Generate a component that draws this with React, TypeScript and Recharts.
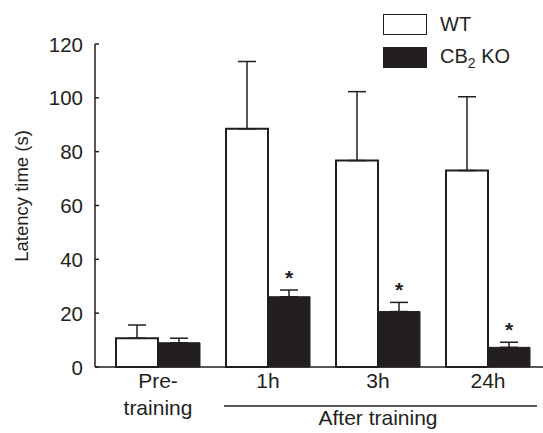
import { BarChart, Bar, XAxis, YAxis, ErrorBar, LabelList, Legend, Label } from "recharts";

const GROUPS = ["Pre-training", "1h", "3h", "24h"];
const SERIES = ["WT", "CB2 KO"];
const WT = [10.7, 88.5, 76.7, 73.0];
const WT_SEM = [4.9, 25.0, 25.6, 27.4];
const KO = [9.0, 26.1, 20.6, 7.3];
const KO_SEM = [1.7, 2.5, 3.4, 1.9];
const SIGNIFICANT = [false, true, true, true];
const Y_TICKS = [0, 20, 40, 60, 80, 100, 120];

const INK = "#231f20";
const FONT = "'Liberation Sans', Arial, sans-serif";

const data = GROUPS.map((g, i) => ({
    group: g,
    wt: WT[i],
    wtErr: [0, WT_SEM[i]],
    ko: KO[i],
    koErr: [0, KO_SEM[i]],
    sig: SIGNIFICANT[i] ? "*" : "",
}));

// y ticks: label to the left, short tick mark pointing into the plot
function YTick(props: any) {
    const { x, y, payload } = props;
    return (
        <g>
            <text x={x} y={y} textAnchor="end" dominantBaseline="central" fontSize={20.5} fill={INK} fontFamily={FONT}>
                {payload.value}
            </text>
            <line x1={x + 12} x2={x + 16} y1={y} y2={y} stroke={INK} strokeWidth={1.5} />
        </g>
    );
}

function XTick(props: any) {
    const { x, y, payload, index } = props;
    const txt = { fontSize: 21, fill: INK, fontFamily: FONT, textAnchor: "middle" as const };
    if (index === 0) {
        return (
            <g>
                <text x={x} y={y + 21} {...txt}>Pre-</text>
                <text x={x} y={y + 48} {...txt}>training</text>
            </g>
        );
    }
    // bracket line under the "after training" groups
    const left = index === 1 ? x - 44 : x - 55;
    const right = index === GROUPS.length - 1 ? x + 49 : x + 55;
    return (
        <g>
            <text x={x} y={y + 21} {...txt}>{payload.value}</text>
            <line x1={left} x2={right} y1={y + 39} y2={y + 39} stroke={INK} strokeWidth={1.5} />
            {index === 2 && <text x={x} y={y + 58} {...txt}>After training</text>}
        </g>
    );
}

function YTitle(props: any) {
    const vb = props.viewBox;
    const x = vb.x - 7;
    const y = vb.y + vb.height / 2 - 9.5;
    return (
        <text x={x} y={y} transform={`rotate(-90, ${x}, ${y})`} textAnchor="middle" fontSize={18.5} fill={INK} fontFamily={FONT}>
            Latency time (s)
        </text>
    );
}

function Star(props: any) {
    const { x, y, width, height, index } = props;
    if (!SIGNIFICANT[index]) return null;
    const top = y - (KO_SEM[index] * height) / KO[index];
    return (
        <text x={x + width / 2} y={top - 5} textAnchor="middle" fontSize={21} fontWeight="bold" fill={INK} fontFamily={FONT}>
            *
        </text>
    );
}

function LegendBox({ payload }: any) {
    const items = [...(payload || [])].sort((a: any, b: any) => SERIES.indexOf(a.value) - SERIES.indexOf(b.value));
    return (
        <div style={{ fontFamily: FONT, fontSize: 20, color: INK }}>
            {items.map((entry: any) => (
                <div key={entry.value} style={{ display: "flex", alignItems: "center", height: 21, marginBottom: 12 }}>
                    <div style={{ width: 44, height: 21, boxSizing: "border-box", background: entry.color, border: `1.5px solid ${INK}` }} />
                    <span style={{ marginLeft: 13 }}>
                        {entry.value === "CB2 KO" ? <>CB<sub style={{ fontSize: 14 }}>2</sub> KO</> : entry.value}
                    </span>
                </div>
            ))}
        </div>
    );
}

export default function App() {
    return (
        <div style={{ position: "absolute", left: 0, top: 0, background: "#fff" }}>
            <BarChart width={543} height={433} data={data} margin={{ top: 44, right: 0, bottom: 0, left: 35 }} barCategoryGap={13} barGap={0}>
                <XAxis dataKey="group" height={66} padding={{ left: 8, right: 0 }} tickLine={false} tickSize={0} tickMargin={0}
                    axisLine={{ stroke: INK, strokeWidth: 1.5 }} tick={<XTick />} interval={0} />
                <YAxis width={60} domain={[0, 120]} ticks={Y_TICKS} tickLine={false} tickSize={0} tickMargin={12}
                    axisLine={{ stroke: INK, strokeWidth: 1.5 }} tick={<YTick />}>
                    <Label content={<YTitle />} />
                </YAxis>
                <Legend layout="vertical" align="center" verticalAlign="middle" content={<LegendBox />}
                    wrapperStyle={{ left: 383, top: 14, width: 160 }} />
                <Bar dataKey="wt" name={SERIES[0]} fill="#ffffff" stroke={INK} strokeWidth={2} isAnimationActive={false}>
                    <ErrorBar dataKey="wtErr" width={9} stroke={INK} strokeWidth={1.5} direction="y" />
                </Bar>
                <Bar dataKey="ko" name={SERIES[1]} fill={INK} stroke={INK} strokeWidth={1} isAnimationActive={false}>
                    <ErrorBar dataKey="koErr" width={9} stroke={INK} strokeWidth={1.5} direction="y" />
                    <LabelList dataKey="sig" content={<Star />} />
                </Bar>
            </BarChart>
        </div>
    );
}
